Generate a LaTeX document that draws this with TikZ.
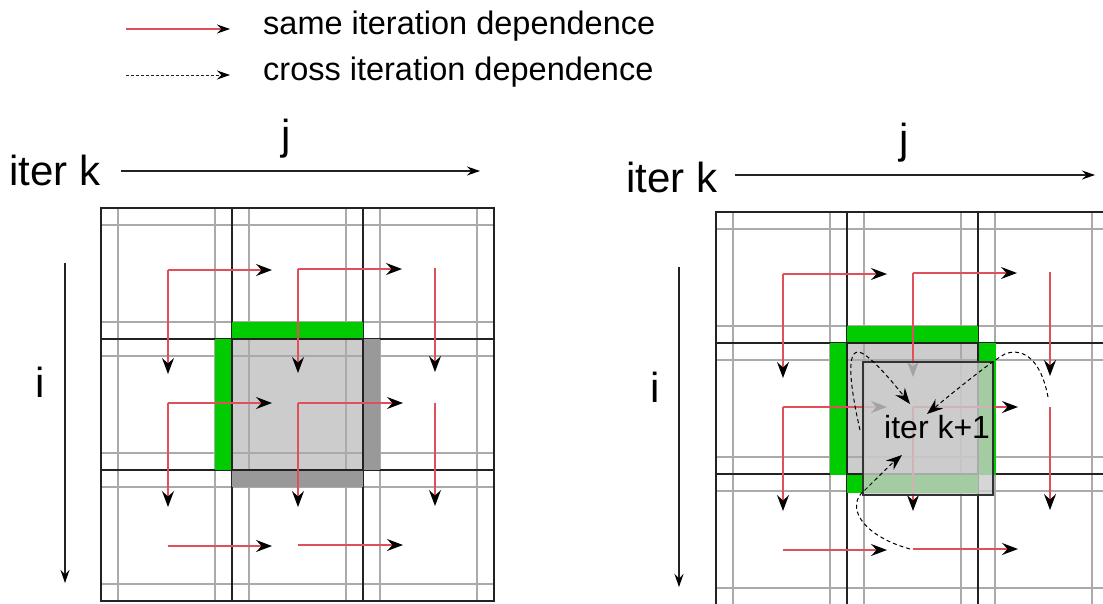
\documentclass[tikz,border=0pt]{standalone}
\usepackage{fontspec}
\setmainfont{Liberation Sans}
\usetikzlibrary{arrows.meta}
\definecolor{gridgray}{HTML}{AAAAAA}
\definecolor{blk}{HTML}{222222}
\definecolor{grn}{HTML}{00CC00}
\definecolor{dgray}{HTML}{999999}
\definecolor{lgray}{HTML}{CCCCCC}
\definecolor{redl}{HTML}{E0505A}
\definecolor{ovl}{HTML}{333333}
\tikzset{
  tiphead/.style={-{Stealth[black,length=16pt,width=12pt,inset=5.5pt]}},
  smallhead/.style={-{Stealth[black,length=13pt,width=9pt,inset=4.5pt]}},
  dep/.style={redl, line width=1.2pt, tiphead},
  xdep/.style={black, line width=1pt, dash pattern=on 4pt off 3pt, tiphead},
  axisarrow/.style={blk, line width=1.1pt, smallhead},
  gl/.style={gridgray, line width=1.2pt},
  bl/.style={blk, line width=1.3pt},
  big/.style={inner sep=0pt, font=\fontsize{42}{48}\selectfont},
  mid/.style={inner sep=0pt, font=\fontsize{32.5}{38}\selectfont},
}
\newcommand\mygridlines{%
  \foreach \v in {17,114,148,245,279,376} {
    \draw[gl] (\v,0) -- (\v,393);
    \draw[gl] (0,\v) -- (393,\v);
  }
  \draw[bl] (0,0) rectangle (393,393);
  \foreach \v in {131,262} {
    \draw[bl] (\v,0) -- (\v,393);
    \draw[bl] (0,\v) -- (393,\v);
  }
}
\newcommand\myredarrows{%
  \coordinate (a) at (67,62);   \draw[dep] (a) -- +(104,0); \draw[dep] (a) -- +(0,104);
  \coordinate (b) at (197,61);  \draw[dep] (b) -- +(104,0); \draw[dep] (b) -- +(0,104);
  \coordinate (c) at (334,60);  \draw[dep] (c) -- +(0,104);
  \coordinate (d) at (67,195);  \draw[dep] (d) -- +(104,0); \draw[dep] (d) -- +(0,104);
  \coordinate (e) at (197,195); \draw[dep] (e) -- +(105,0); \draw[dep] (e) -- +(0,104);
  \coordinate (f) at (334,195); \draw[dep] (f) -- +(0,103);
  \coordinate (g) at (67,338);  \draw[dep] (g) -- +(104,0);
  \coordinate (h) at (197,337); \draw[dep] (h) -- +(105,0);
}
\begin{document}
\begin{tikzpicture}[x=1pt,y=-1pt]
\useasboundingbox (0,0) rectangle (1103,603);
\clip (0,0) rectangle (1103,603);
\fill[white] (0,0) rectangle (1103,603);

% legend
\coordinate (l1s) at (126,29); \coordinate (l1e) at (230,29);
\coordinate (l2s) at (126,75); \coordinate (l2e) at (230,75);
\draw[redl, line width=1.2pt, smallhead] (l1s) -- (l1e);
\draw[blk, line width=1pt, dash pattern=on 3pt off 2pt, smallhead] (l2s) -- (l2e);
\node[mid, anchor=base west] (leg1) at (263,34) {same iteration dependence};
\node[mid, anchor=base west] (leg2) at (263,80) {cross iteration dependence};

% ---------------- left grid ----------------
\node[big, anchor=base west] (iterkL) at (9,185) {iter k};
\node[big, anchor=base] (jL) at (286.5,149) {j};
\node[big, anchor=base] (iL) at (40.5,397) {i};
\coordinate (jLs) at (121,171); \coordinate (jLe) at (480,171);
\coordinate (iLs) at (65,263);  \coordinate (iLe) at (65,583);
\draw[axisarrow] (jLs) -- (jLe);
\draw[axisarrow] (iLs) -- (iLe);

\begin{scope}[shift={(101,208)}]
  \fill[lgray] (131,131) rectangle (262,262);
  \mygridlines
  \fill[grn] (131,114) rectangle (262,131);
  \fill[grn] (114,131) rectangle (131,262);
  \fill[dgray] (262,131) rectangle (279,262);
  \fill[dgray] (131,262) rectangle (262,279);
  \draw[bl] (131,131) rectangle (262,262);
  \myredarrows
\end{scope}

% ---------------- right grid ----------------
\node[big, anchor=base west] (iterkR) at (626,192) {iter k};
\node[big, anchor=base] (jR) at (904.5,153) {j};
\node[big, anchor=base] (iR) at (655.5,402) {i};
\coordinate (jRs) at (735,175); \coordinate (jRe) at (1095,175);
\coordinate (iRs) at (679,267); \coordinate (iRe) at (679,587);
\draw[axisarrow] (jRs) -- (jRe);
\draw[axisarrow] (iRs) -- (iRe);

\begin{scope}[shift={(716,212)}]
  \fill[lgray] (131,131) rectangle (262,262);
  \mygridlines
  \fill[grn] (131,114) rectangle (262,131);
  \fill[grn] (114,131) rectangle (131,263);
  \fill[grn] (262,131) rectangle (280,263);
  \fill[grn] (131,263) rectangle (262,281);
  \draw[bl] (131,131) rectangle (262,262);
  \myredarrows
  \draw[ovl, line width=1.3pt, fill=lgray, fill opacity=0.8] (147,150) rectangle (277,283);
\end{scope}

% cross iteration dependences
\coordinate (x1s) at (860,430); \coordinate (x1e) at (910,404);
\coordinate (x2s) at (1048,397); \coordinate (x2e) at (927,414);
\coordinate (x3s) at (910,549); \coordinate (x3e) at (902,455);
\draw[xdep] (x1s) .. controls (852,395) and (845,352) .. (858,352) .. controls (868,352) and (895,385) .. (x1e);
\draw[xdep] (x2s) .. controls (1040,355) and (1020,348) .. (1005,354) .. controls (990,362) and (950,395) .. (x2e);
\draw[xdep] (x3s) .. controls (860,535) and (845,505) .. (865,490) .. controls (875,480) and (890,465) .. (x3e);

\node[mid, font=\fontsize{32}{38}\selectfont, anchor=base west] (iterk1) at (884,438) {iter k+1};
\end{tikzpicture}
\end{document}
